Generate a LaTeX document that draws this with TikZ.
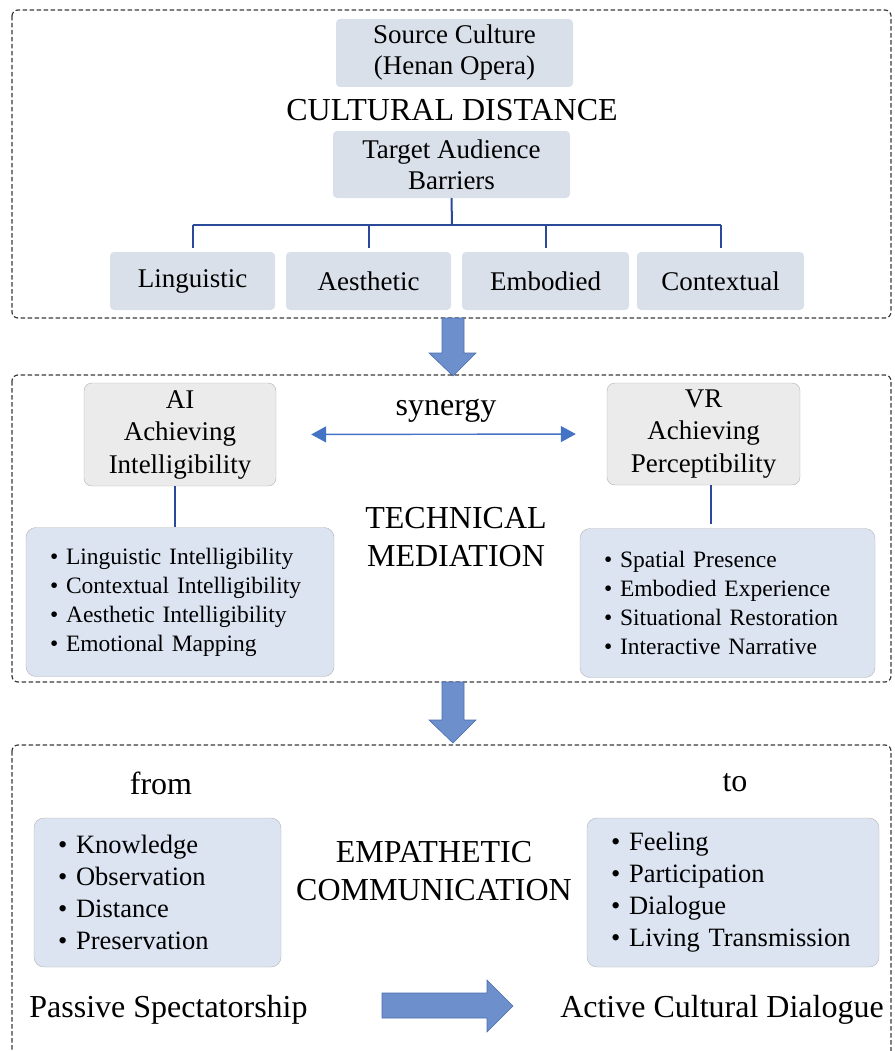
\documentclass[tikz,border=0pt]{standalone}
\usepackage{fontspec}
\setmainfont{Liberation Serif}
\usepackage{xcolor,tikz}
\usetikzlibrary{arrows.meta,positioning,calc}
\definecolor{boxfill}{HTML}{DAE0EA}
\definecolor{greybox}{HTML}{EBEBEB}
\definecolor{bullfill}{HTML}{DCE4F2}
\definecolor{linkblue}{HTML}{2A4A99}
\definecolor{synblue}{HTML}{4472C4}
\definecolor{arrowblue}{HTML}{6D8FCB}
\definecolor{arrowedge}{HTML}{4A6DB0}
\definecolor{framegray}{HTML}{3A3A3A}
\tikzset{frame/.style={draw=framegray,dash pattern=on 4.5pt off 2.5pt,line width=1.2pt,rounded corners=6pt},
  cbox/.style={fill=boxfill,rounded corners=4pt,inner sep=0pt,align=center,
    font={\fontsize{27}{31}\selectfont}},
  techbox/.style={draw=gray!60,fill=greybox,rounded corners=8pt,inner sep=0pt,align=center,
    font={\fontsize{27}{32.5}\selectfont}},
  bullbox/.style={draw=gray!60,fill=bullfill,rounded corners=10pt,inner xsep=24pt,inner ysep=0pt,
    align=left,minimum height=149pt},
  title/.style={align=center,inner sep=0pt,font={\fontsize{32}{38}\selectfont}},
  link/.style={draw=linkblue,line width=2pt},
  syn/.style={{Triangle[length=15pt,width=16pt]}-{Triangle[length=15pt,width=16pt]},draw=synblue,line width=1.4pt},
  blockarrow/.style={fill=arrowblue,draw=arrowedge,line width=0.6pt}}

\begin{document}
\begin{tikzpicture}[x=1pt,y=-1pt]
\useasboundingbox (0,0) rectangle (894,1051);
% cultural distance
\draw[frame] (12,10) rectangle (891,318);
\node[cbox,minimum width=237pt,minimum height=68pt] (src) at (454.5,53) {Source Culture\\(Henan Opera)};
\node[title] (dist) at (452,110) {CULTURAL DISTANCE};
\node[cbox,minimum width=237pt,minimum height=67pt] (tgt) at (451.5,164.5) {Target Audience\\Barriers};
\node[cbox,minimum width=165pt,minimum height=58pt] (ling) at (192.5,281) {Linguistic};
\node[cbox,minimum width=165pt,minimum height=58pt] (aest) at (368.5,281) {Aesthetic};
\node[cbox,minimum width=167pt,minimum height=58pt] (embo) at (545.5,281) {Embodied};
\node[cbox,minimum width=167pt,minimum height=58pt] (cont) at (720.5,281) {Contextual};
\coordinate (bar) at (452,225);
\draw[link] (tgt.south) -- (bar);
\draw[link] (bar -| ling) -- (bar -| cont);
\foreach \b in {ling,aest,embo,cont}
  \draw[link] (bar -| \b) -- ([yshift=4pt]\b.north);
\draw[blockarrow] (442,318) -- (464,318) -- (464,353) -- (476,353) -- (453,376) -- (429,353) -- (442,353) -- cycle;
% technical mediation
\draw[frame] (12,375) rectangle (891,682);
\node[techbox,minimum width=192pt,minimum height=103pt] (ai) at (180,434.5) {AI\\Achieving\\Intelligibility};
\node[techbox,minimum width=193pt,minimum height=102pt] (vr) at (703.5,434) {VR\\Achieving\\Perceptibility};
\node[title] (syntext) at (446,411) {synergy};
\draw[syn,shorten <=35pt,shorten >=31pt] (ai.east) -- (vr.west);
\node[title] (tech) at (456,537) {TECHNICAL\\MEDIATION};
\node[bullbox,text width=260pt,font={\fontsize{23.5}{29}\selectfont}] (aibul) at (180,602)
  {\textbullet\ Linguistic Intelligibility\\\textbullet\ Contextual Intelligibility\\\textbullet\ Aesthetic Intelligibility\\\textbullet\ Emotional Mapping};
\node[bullbox,text width=247pt,font={\fontsize{23.5}{29}\selectfont}] (vrbul) at (727.5,603)
  {\textbullet\ Spatial Presence\\\textbullet\ Embodied Experience\\\textbullet\ Situational Restoration\\\textbullet\ Interactive Narrative};
\draw[link,line width=1.5pt] (ai.south -| 175,0) -- (aibul.north -| 175,0);
\draw[link,line width=1.5pt] (vr.south -| 711,0) -- ([yshift=4pt]vrbul.north -| 711,0);
\draw[blockarrow] (442,682) -- (464,682) -- (464,720) -- (476,720) -- (453,743) -- (429,720) -- (442,720) -- cycle;
% empathetic communication
\draw[frame] (12,745) rectangle (891,1070);
\node[title] (from) at (161,783) {from};
\node[title] (to) at (735,783) {to};
\node[bullbox,text width=199pt,font={\fontsize{26.5}{32}\selectfont}] (frombul) at (157.5,892.5)
  {\textbullet\ Knowledge\\\textbullet\ Observation\\\textbullet\ Distance\\\textbullet\ Preservation};
\node[bullbox,text width=244pt,font={\fontsize{26.5}{32}\selectfont}] (tobul) at (733,892.5)
  {\textbullet\ Feeling\\\textbullet\ Participation\\\textbullet\ Dialogue\\\textbullet\ Living Transmission};
\node[title] (empa) at (434,871) {EMPATHETIC\\COMMUNICATION};
\node[title] (passive) at (168.5,1010) {Passive Spectatorship};
\node[title] (active) at (722,1010) {Active Cultural Dialogue};
\draw[blockarrow] (382,993) -- (487,993) -- (487,980) -- (513,1006) -- (487,1032) -- (487,1018) -- (382,1018) -- cycle;
\end{tikzpicture}
\end{document}
